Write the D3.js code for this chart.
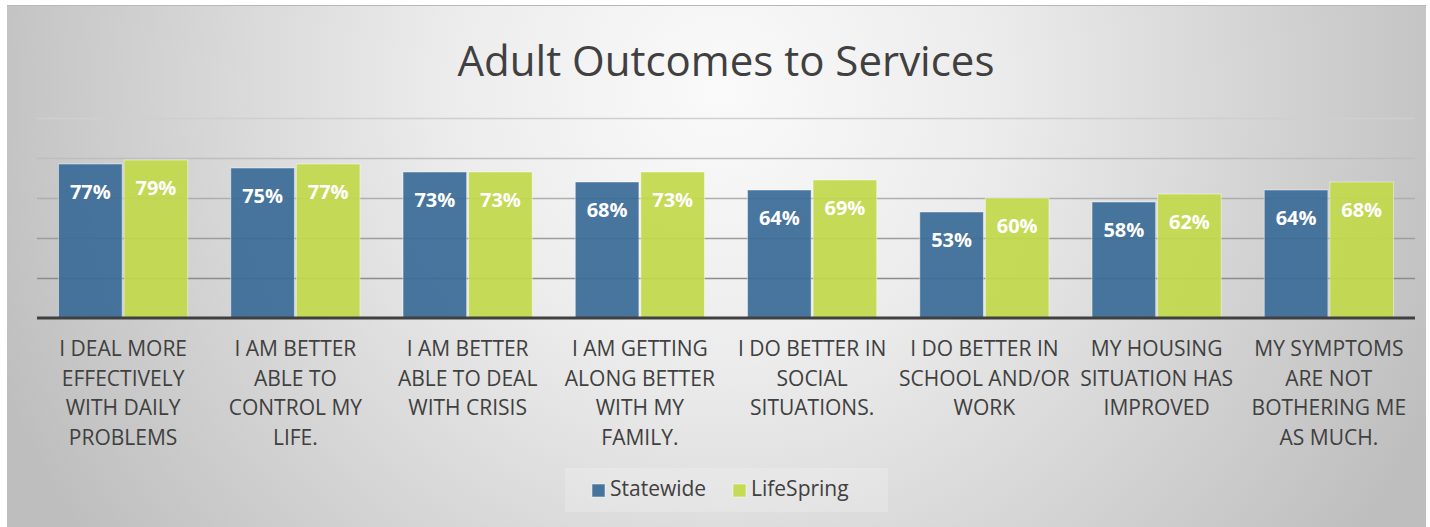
<!DOCTYPE html>
<html>
<head>
<meta charset="utf-8">
<script src="https://cdn.jsdelivr.net/npm/d3@7"></script>
<style>
  html, body { margin: 0; padding: 0; background: #ffffff; }
  svg { display: block; font-family: "Open Sans", sans-serif; }
</style>
</head>
<body>
<svg id="chart" width="1430" height="527"></svg>
<script>
// categories (line breaks as in the original chart)
var categories = [
    "I DEAL MORE\nEFFECTIVELY\nWITH DAILY\nPROBLEMS",
    "I AM BETTER\nABLE TO\nCONTROL MY\nLIFE.",
    "I AM BETTER\nABLE TO DEAL\nWITH CRISIS",
    "I AM GETTING\nALONG BETTER\nWITH MY\nFAMILY.",
    "I DO BETTER IN\nSOCIAL\nSITUATIONS.",
    "I DO BETTER IN\nSCHOOL AND/OR\nWORK",
    "MY HOUSING\nSITUATION HAS\nIMPROVED",
    "MY SYMPTOMS\nARE NOT\nBOTHERING ME\nAS MUCH."
]
var seriesNames = ["Statewide", "LifeSpring"]
var statewide  = [0.77, 0.75, 0.73, 0.68, 0.64, 0.53, 0.58, 0.64]
var lifespring = [0.79, 0.77, 0.73, 0.73, 0.69, 0.60, 0.62, 0.68]
var gridTicks  = [0.2, 0.4, 0.6, 0.8, 1.0]
var chartTitle = "Adult Outcomes to Services"

var colors = { "Statewide": "#3a6c98", "LifeSpring": "#c2d84a" }

var svg = d3.select("#chart")
var panel = { left: 7, top: 5, right: 1426, bottom: 527 }
var plot = { left: 37, right: 1415, top: 118, bottom: 318 }

// 背景渐变
var defs = svg.append("defs")
var grad = defs.append("radialGradient")
    .attr("id", "bg-grad")
    .attr("gradientUnits", "userSpaceOnUse")
    .attr("cx", 720).attr("cy", 90).attr("r", 780)
grad.append("stop").attr("offset", 0).attr("stop-color", "#fafafa")
grad.append("stop").attr("offset", 0.35).attr("stop-color", "#ececec")
grad.append("stop").attr("offset", 1).attr("stop-color", "#bebebe")

svg.append("rect")
    .attr("x", panel.left).attr("y", panel.top)
    .attr("width", panel.right - panel.left).attr("height", panel.bottom - panel.top)
    .attr("fill", "url(#bg-grad)")
svg.append("line")
    .attr("x1", panel.left).attr("x2", panel.right)
    .attr("y1", panel.top + 0.5).attr("y2", panel.top + 0.5)
    .attr("stroke", "#b8b8b8").attr("stroke-width", 1)

// title
svg.append("text")
    .attr("x", 726).attr("y", 76)
    .attr("text-anchor", "middle")
    .attr("font-size", "42px")
    .attr("fill", "#404040")
    .text(chartTitle)

// scales
var x0 = d3.scaleBand()
    .domain(categories)
    .range([plot.left, plot.right])
    .paddingInner(0.25)
    .paddingOuter(0.125)
var x1 = d3.scaleBand()
    .domain(seriesNames)
    .range([0, x0.bandwidth()])
    .paddingInner(0.03)
var y = d3.scaleLinear()
    .domain([0, 1])
    .range([plot.bottom, plot.top])

// gridlines
var gridColors = d3.scaleLinear()
    .domain([0.2, 1.0])
    .range(["#8c8c8c", "#cfcfcf"])
var gridAxis = d3.axisLeft(y)
    .tickValues(gridTicks)
    .tickSize(-(plot.right - plot.left))
    .tickFormat("")
var gGrid = svg.append("g")
    .attr("transform", "translate(" + plot.left + ",0)")
    .call(gridAxis)
gGrid.select(".domain").remove()
gGrid.selectAll(".tick line")
    .attr("stroke", function (d) { return gridColors(d) })
    .attr("stroke-width", 1.6)

// bars
var rows = categories.map(function (c, i) {
    return { cat: c, values: [
        { name: "Statewide", value: statewide[i] },
        { name: "LifeSpring", value: lifespring[i] }
    ] }
})

var groups = svg.append("g").selectAll("g")
    .data(rows)
    .join("g")
    .attr("transform", function (d) { return "translate(" + x0(d.cat) + ",0)" })

groups.selectAll("rect")
    .data(function (d) { return d.values })
    .join("rect")
    .attr("x", function (d) { return x1(d.name) })
    .attr("y", function (d) { return y(d.value) })
    .attr("width", x1.bandwidth())
    .attr("height", function (d) { return y(0) - y(d.value) })
    .attr("fill", function (d) { return colors[d.name] })
    .attr("fill-opacity", 0.93)
    .attr("stroke", "rgba(255,255,255,0.45)")
    .attr("stroke-width", 1)

groups.selectAll("text.val")
    .data(function (d) { return d.values })
    .join("text")
    .attr("class", "val")
    .attr("x", function (d) { return x1(d.name) + x1.bandwidth() / 2 })
    .attr("y", function (d) { return y(d.value) + 35 })
    .attr("text-anchor", "middle")
    .attr("font-size", "20px")
    .attr("font-weight", "bold")
    .attr("fill", "#ffffff")
    .text(function (d) { return d3.format(".0%")(d.value) })

// baseline
svg.append("line")
    .attr("x1", plot.left).attr("x2", plot.right)
    .attr("y1", y(0)).attr("y2", y(0))
    .attr("stroke", "#404040")
    .attr("stroke-width", 3)

// category labels
var labels = svg.append("g").selectAll("text")
    .data(categories)
    .join("text")
    .attr("x", function (d) { return x0(d) + x0.bandwidth() / 2 })
    .attr("y", 356)
    .attr("text-anchor", "middle")
    .attr("font-size", "21px")
    .attr("fill", "#404040")
labels.each(function (d) {
    var t = d3.select(this)
    d.split("\n").forEach(function (line, i) {
        t.append("tspan")
            .attr("x", t.attr("x"))
            .attr("dy", i === 0 ? 0 : 29.5)
            .text(line)
    })
})

// legend
var legend = svg.append("g")
legend.append("rect")
    .attr("x", 565).attr("y", 468)
    .attr("width", 323).attr("height", 44)
    .attr("fill", "#ffffff").attr("fill-opacity", 0.2)
var legendX = [592, 733]
seriesNames.forEach(function (name, i) {
    legend.append("rect")
        .attr("x", legendX[i]).attr("y", 484)
        .attr("width", 13).attr("height", 13)
        .attr("fill", colors[name]).attr("fill-opacity", 0.93)
        .attr("stroke", "rgba(255,255,255,0.5)")
    legend.append("text")
        .attr("x", legendX[i] + 18).attr("y", 496)
        .attr("font-size", "21px")
        .attr("fill", "#404040")
        .text(name)
})
</script>
</body>
</html>
